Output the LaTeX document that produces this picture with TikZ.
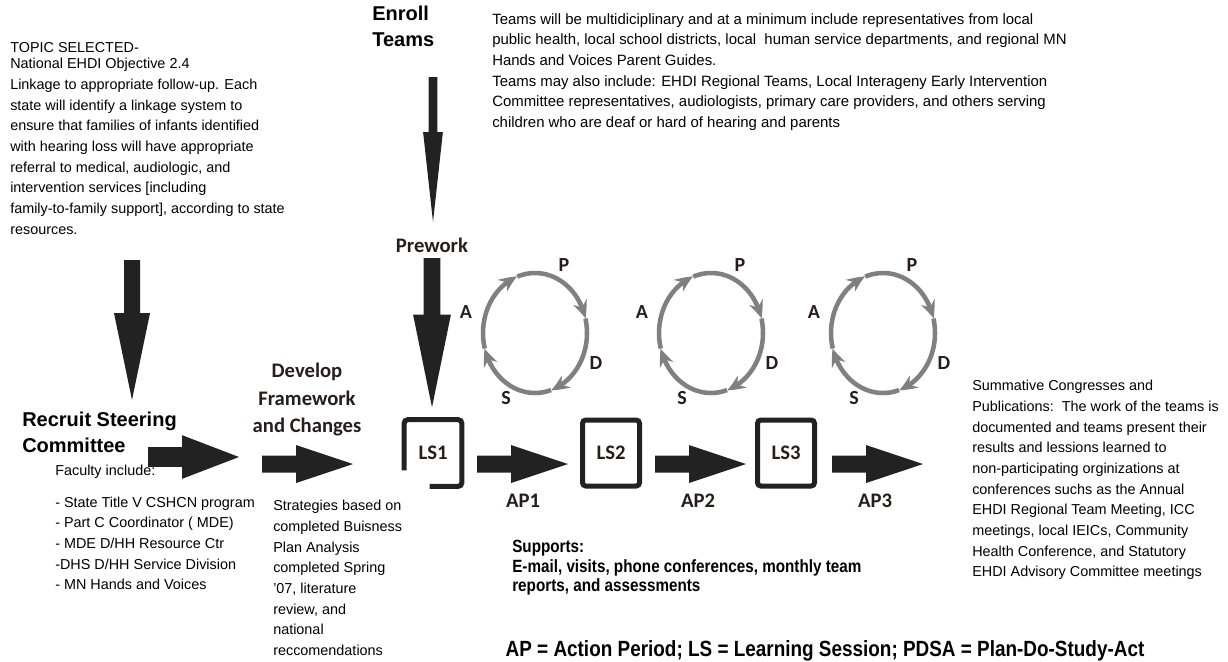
\documentclass[tikz,border=0pt]{standalone}
\usepackage{fontspec}
\setmainfont{Liberation Sans}
\newfontfamily\calfont{Carlito}
\newfontfamily\narrowfont{Liberation Sans}[FakeStretch=0.86]
\usetikzlibrary{arrows.meta,bending}
\definecolor{arrowblack}{RGB}{34,34,34}
\definecolor{cyclegray}{RGB}{128,128,128}
\definecolor{headtext}{RGB}{40,28,28}
\tikzset{
  blk/.style={fill=arrowblack},
  harrow/.pic={\fill[blk] (0,-8.5) -- (34,-8.5) -- (34,-19) -- (91,0) -- (34,19) -- (34,8.5) -- (0,8.5) -- cycle;},
  varrow/.pic={\fill[blk] (-8,0) -- (-8,-55) -- (-18,-55) -- (0,-145) -- (18,-55) -- (8,-55) -- (8,0) -- cycle;},
  smalltext/.style={anchor=north west, align=left, inner sep=0pt, font=\fontsize{10.8}{15.5}\selectfont},
  bighead/.style={anchor=north west, align=left, inner sep=0pt, font=\bfseries\fontsize{15}{19.5}\selectfont},
  calhead/.style={inner sep=0pt, text=headtext, font=\calfont\bfseries\fontsize{15.5}{20.6}\selectfont},
  lsbox/.style={calhead, minimum width=42.75pt, minimum height=49.5pt},
  lsline/.style={draw=arrowblack, line width=3.75pt, rounded corners=2.5pt},
  cyclearc/.style={draw=cyclegray, line width=3.4pt, -{Stealth[length=13pt,width=11pt,bend]}},
  pdsa/.style={calhead, font=\calfont\bfseries\fontsize{15}{18}\selectfont}
}
\begin{document}
\begin{tikzpicture}[x=0.75pt, y=0.75pt]
    \useasboundingbox (0,-661) rectangle (1228,0);
    \node[smalltext] (topic) at (10,-42) {TOPIC SELECTED-\\[-3pt]National EHDI Objective 2.4\\Linkage to appropriate follow-up. Each\\state will identify a linkage system to\\ensure that families of infants identified\\with hearing loss will have appropriate\\referral to medical, audiologic, and\\intervention services [including\\family-to-family support], according to state\\resources.};
    \node[smalltext, font=\fontsize{11.2}{15.5}\selectfont] (teams) at (492,-13) {Teams will be multidiciplinary and at a minimum include representatives from local\\public health, local school districts, local\ \ human service departments, and regional MN\\Hands and Voices Parent Guides.\\Teams may also include: EHDI Regional Teams, Local Interageny Early Intervention\\Committee representatives, audiologists, primary care providers, and others serving\\children who are deaf or hard of hearing and parents};
    \node[bighead] (enroll) at (372,-6) {Enroll\\Teams};
    \node[bighead] (recruit) at (22,-412) {Recruit Steering\\Committee};
    \node[calhead, anchor=north, align=center] (develop) at (307,-363) {Develop\\Framework\\and Changes};
    \node[calhead] (prework) at (432,-245) {Prework};
    \node[smalltext] (faculty) at (55,-465) {Faculty include:\\[8pt]- State Title V CSHCN program\\- Part C Coordinator ( MDE)\\- MDE D/HH Resource Ctr\\-DHS D/HH Service Division\\- MN Hands and Voices};
    \node[smalltext] (strategies) at (273,-500) {Strategies based on\\completed Buisness\\Plan Analysis\\completed Spring\\'07, literature\\review, and\\national\\reccomendations};
    \node[smalltext] (summative) at (972,-380) {Summative Congresses and\\Publications:\ \ The work of the teams is\\documented and teams present their\\results and lessions learned to\\non-participating orginizations at\\conferences suchs as the Annual\\EHDI Regional Team Meeting, ICC\\meetings, local IEICs, Community\\Health Conference, and Statutory\\EHDI Advisory Committee meetings};
    \node[anchor=north west, align=left, inner sep=0pt, font=\narrowfont\bfseries\fontsize{13.3}{14.6}\selectfont] (supports) at (512,-540) {Supports:\\E-mail, visits, phone conferences, monthly team\\reports, and assessments};
    \node[inner sep=0pt, font=\narrowfont\bfseries\fontsize{16.5}{18}\selectfont] (legend) at (825,-651) {AP = Action Period; LS = Learning Session; PDSA = Plan-Do-Study-Act};
    \node[lsbox] (ls1) at (433,-453) {LS1};
    \node[lsbox, lsline] (ls2) at (611,-453) {LS2};
    \node[lsbox, lsline] (ls3) at (786,-453) {LS3};
    \draw[lsline] ([yshift=12pt]ls1.south west) -- (ls1.north west) -- (ls1.north east) -- (ls1.south east) -- ([xshift=19pt]ls1.south west);
    \node[calhead] (ap1) at (523,-501) {AP1};
    \node[calhead] (ap2) at (698,-501) {AP2};
    \node[calhead] (ap3) at (875,-501) {AP3};
    \pic[yscale=0.965] at (132,-260) {varrow};
    \pic[xscale=0.55] at (433,-77) {varrow};
    \pic[xscale=1.05, yscale=1.03] at (432,-258) {varrow};
    \pic[yscale=1.15] at (148,-457) {harrow};
    \pic at (262,-464) {harrow};
    \pic at (477,-464) {harrow};
    \pic at (655,-464) {harrow};
    \pic at (832,-464) {harrow};
    \foreach \cx [count=\i] in {535,711,883}{
        \foreach \a/\b in {195/110,110/14,14/-72,-72/-165}
            \draw[cyclearc] (\cx,-333) ++(\a:52 and 60) arc[start angle=\a, end angle=\b, x radius=52, y radius=60];
        \node[pdsa] (p\i) at (\cx+29,-265) {P};
        \node[pdsa] (a\i) at (\cx-69,-312) {A};
        \node[pdsa] (d\i) at (\cx+61,-363) {D};
        \node[pdsa] (s\i) at (\cx-29,-398) {S};
    }
\end{tikzpicture}
\end{document}
